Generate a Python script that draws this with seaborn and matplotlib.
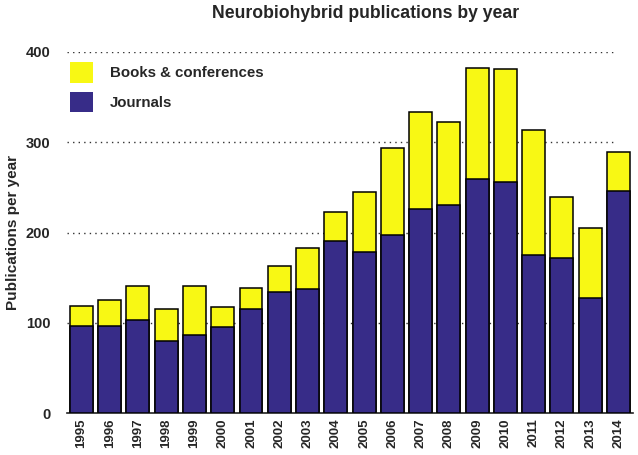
import numpy as np
import pandas as pd
import seaborn as sns
import matplotlib.pyplot as plt
from matplotlib.patches import Patch

years = [str(y) for y in range(1995, 2015)]
total = [119, 125, 141, 115, 141, 117, 139, 163, 183, 223,
         245, 294, 333, 322, 382, 381, 313, 239, 205, 289]
journals = [96, 97, 103, 80, 87, 95, 115, 134, 138, 191,
            178, 197, 226, 231, 259, 256, 175, 172, 128, 246]

yellow = "#F8F814"
navy = "#372C88"

tabela = pd.DataFrame({"ano": years, "total": total, "journals": journals})

sns.set_style("white")
plt.rcParams["font.family"] = ["Liberation Sans", "DejaVu Sans"]
plt.rcParams["font.weight"] = "bold"

fig = plt.figure(figsize=(6.38, 4.55), dpi=100)
ax = fig.add_axes([0.105, 0.092, 0.887, 0.794])

# barras empilhadas: total amarelo atras, revistas azul na frente
sns.barplot(data=tabela, x="ano", y="total", color=yellow, saturation=1,
            width=0.81, edgecolor="black", linewidth=1.1, ax=ax, zorder=2)
sns.barplot(data=tabela, x="ano", y="journals", color=navy, saturation=1,
            width=0.81, edgecolor="black", linewidth=1.1, ax=ax, zorder=3)

ax.set_ylim(0, 400)
ax.set_xlim(-0.51, 19.51)
ax.set_yticks([0, 100, 200, 300, 400])
for v in [100, 200, 300, 400]:
    ax.axhline(v, xmin=0, xmax=0.97, color="#333333", linestyle=(0, (1, 3)),
               linewidth=1, zorder=1)

for s in ["top", "right", "left"]:
    ax.spines[s].set_visible(False)
ax.spines["bottom"].set_color("#222222")
ax.spines["bottom"].set_linewidth(1.2)

ax.tick_params(axis="x", labelrotation=90, labelsize=9.5, length=0, pad=4)
ax.tick_params(axis="y", labelsize=10.5, length=0, pad=12)
for lab in ax.get_xticklabels() + ax.get_yticklabels():
    lab.set_fontweight("bold")

ax.set_xlabel("")
ax.set_ylabel("Publications per year", fontsize=11, fontweight="bold", labelpad=4)
fig.suptitle("Neurobiohybrid publications by year", fontsize=12.7,
             fontweight="bold", x=0.573, y=0.988)

handles = [Patch(facecolor=yellow, edgecolor="none", label="Books & conferences"),
           Patch(facecolor=navy, edgecolor="none", label="Journals")]
ax.legend(handles=handles, loc="upper left", bbox_to_anchor=(0.005, 0.972),
          frameon=False, borderpad=0, borderaxespad=0, handlelength=1.55,
          handleheight=1.75, handletextpad=1.1, labelspacing=0.6,
          prop={"size": 10.8, "weight": "bold"})

fig.savefig("out.png", dpi=100)
